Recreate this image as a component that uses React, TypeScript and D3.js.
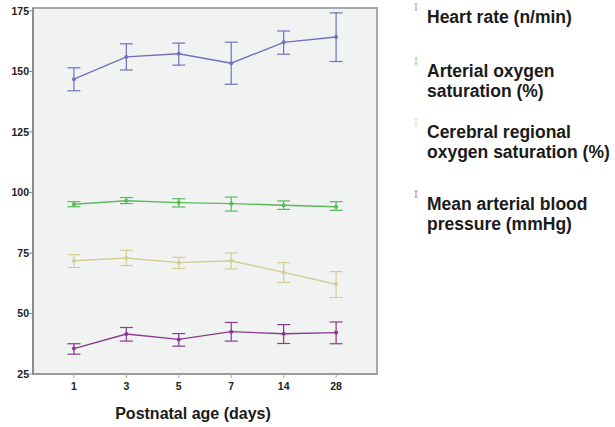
import React from "react";
import * as d3 from "d3";

const days = ["1", "3", "5", "7", "14", "28"];
const yTicks = [25, 50, 75, 100, 125, 150, 175];

const hrMean = [146.8, 156.0, 157.3, 153.4, 162.0, 164.2];
const hrLow = [142.0, 150.6, 152.6, 144.7, 157.1, 154.1];
const hrHigh = [151.5, 161.4, 161.7, 162.1, 166.7, 174.2];

const spo2Mean = [95.1, 96.6, 95.8, 95.4, 94.7, 94.1];
const spo2Low = [94.1, 95.4, 94.0, 92.3, 93.0, 92.6];
const spo2High = [96.2, 97.9, 97.4, 98.1, 96.5, 96.2];

const rso2Mean = [71.8, 72.9, 71.0, 71.8, 67.0, 62.1];
const rso2Low = [69.0, 69.8, 68.6, 68.4, 62.8, 56.6];
const rso2High = [74.3, 76.1, 73.2, 75.0, 71.0, 67.3];

const mabpMean = [35.5, 41.5, 39.3, 42.5, 41.6, 42.1];
const mabpLow = [33.2, 38.6, 36.5, 38.6, 37.6, 37.5];
const mabpHigh = [37.5, 44.2, 41.7, 46.3, 45.4, 46.5];

const seriesNames = [
  ["Heart rate (n/min)"],
  ["Arterial oxygen", "saturation (%)"],
  ["Cerebral regional", "oxygen saturation (%)"],
  ["Mean arterial blood", "pressure (mmHg)"],
];

const series = [
  { mean: hrMean, low: hrLow, high: hrHigh, color: "#6f70c0" },
  { mean: spo2Mean, low: spo2Low, high: spo2High, color: "#5cb85c" },
  { mean: rso2Mean, low: rso2Low, high: rso2High, color: "#d4cd96" },
  { mean: mabpMean, low: mabpLow, high: mabpHigh, color: "#8a3a8c" },
];

export default function App() {
  const W = 615, H = 427;
  const left = 33, top = 8, right = 377, bottom = 374;
  const x = d3.scalePoint<string>().domain(days).range([left, right]).padding(0.78);
  const y = d3.scaleLinear().domain([25, 176.2]).range([bottom, top]);
  const line = d3
    .line<number>()
    .x((_, i) => x(days[i]) as number)
    .y((d) => y(d));
  const font = "Arial, 'Liberation Sans', sans-serif";
  const legendY = [17, 71, 132, 204];
  const cap = 6.5;

  return (
    <svg width={W} height={H} style={{ position: "absolute", left: 0, top: 0, background: "#fff" }} fontFamily={font}>
      <rect x={left} y={top} width={right - left} height={bottom - top} fill="#f1f3f3" stroke="#a8a8a8" strokeWidth={2} />
      <line x1={left} x2={left} y1={top} y2={bottom} stroke="#8c8c8c" strokeWidth={2} />
      <line x1={left} x2={right} y1={bottom} y2={bottom} stroke="#9a9a9a" strokeWidth={2} />
      {yTicks.map((t) => (
        <g key={t}>
          <line x1={left - 4} x2={left} y1={y(t)} y2={y(t)} stroke="#888" strokeWidth={1} />
          <text x={left - 4} y={y(t)} dy="0.35em" textAnchor="end" fontSize={10.5} fontWeight="bold" fill="#222">
            {t}
          </text>
        </g>
      ))}
      {days.map((d) => (
        <g key={d}>
          <line x1={x(d)} x2={x(d)} y1={bottom} y2={bottom + 4} stroke="#aaa" strokeWidth={1} />
          <text x={x(d)} y={bottom + 16} textAnchor="middle" fontSize={10.5} fontWeight="bold" fill="#222">
            {d}
          </text>
        </g>
      ))}
      <text x={193} y={419} textAnchor="middle" fontSize={16} fontWeight="bold" fill="#1a1a1a">
        Postnatal age (days)
      </text>
      {series.map((s, si) => (
        <g key={si} stroke={s.color} fill="none">
          <path d={line(s.mean) || ""} strokeWidth={1.4} />
          {s.mean.map((m, i) => {
            const cx = x(days[i]) as number;
            return (
              <g key={i}>
                <line x1={cx} x2={cx} y1={y(s.low[i])} y2={y(s.high[i])} strokeWidth={1.2} />
                <line x1={cx - cap} x2={cx + cap} y1={y(s.low[i])} y2={y(s.low[i])} strokeWidth={1.2} />
                <line x1={cx - cap} x2={cx + cap} y1={y(s.high[i])} y2={y(s.high[i])} strokeWidth={1.2} />
                <circle cx={cx} cy={y(m)} r={2} fill={s.color} stroke="none" />
              </g>
            );
          })}
        </g>
      ))}
      {seriesNames.map((lines, si) => (
        <g key={si}>
          <g stroke={series[si].color} strokeWidth={0.8} opacity={0.8}>
            <line x1={416} x2={416} y1={legendY[si] - 13} y2={legendY[si] - 7} />
            <line x1={414.5} x2={417.5} y1={legendY[si] - 13} y2={legendY[si] - 13} />
            <line x1={414.5} x2={417.5} y1={legendY[si] - 7} y2={legendY[si] - 7} />
          </g>
          {lines.map((t, li) => (
            <text key={li} x={427} y={legendY[si] + li * 20} dy="0.35em" fontSize={17.5} fontWeight="bold" fill="#1a1a1a">
              {t}
            </text>
          ))}
        </g>
      ))}
    </svg>
  );
}
